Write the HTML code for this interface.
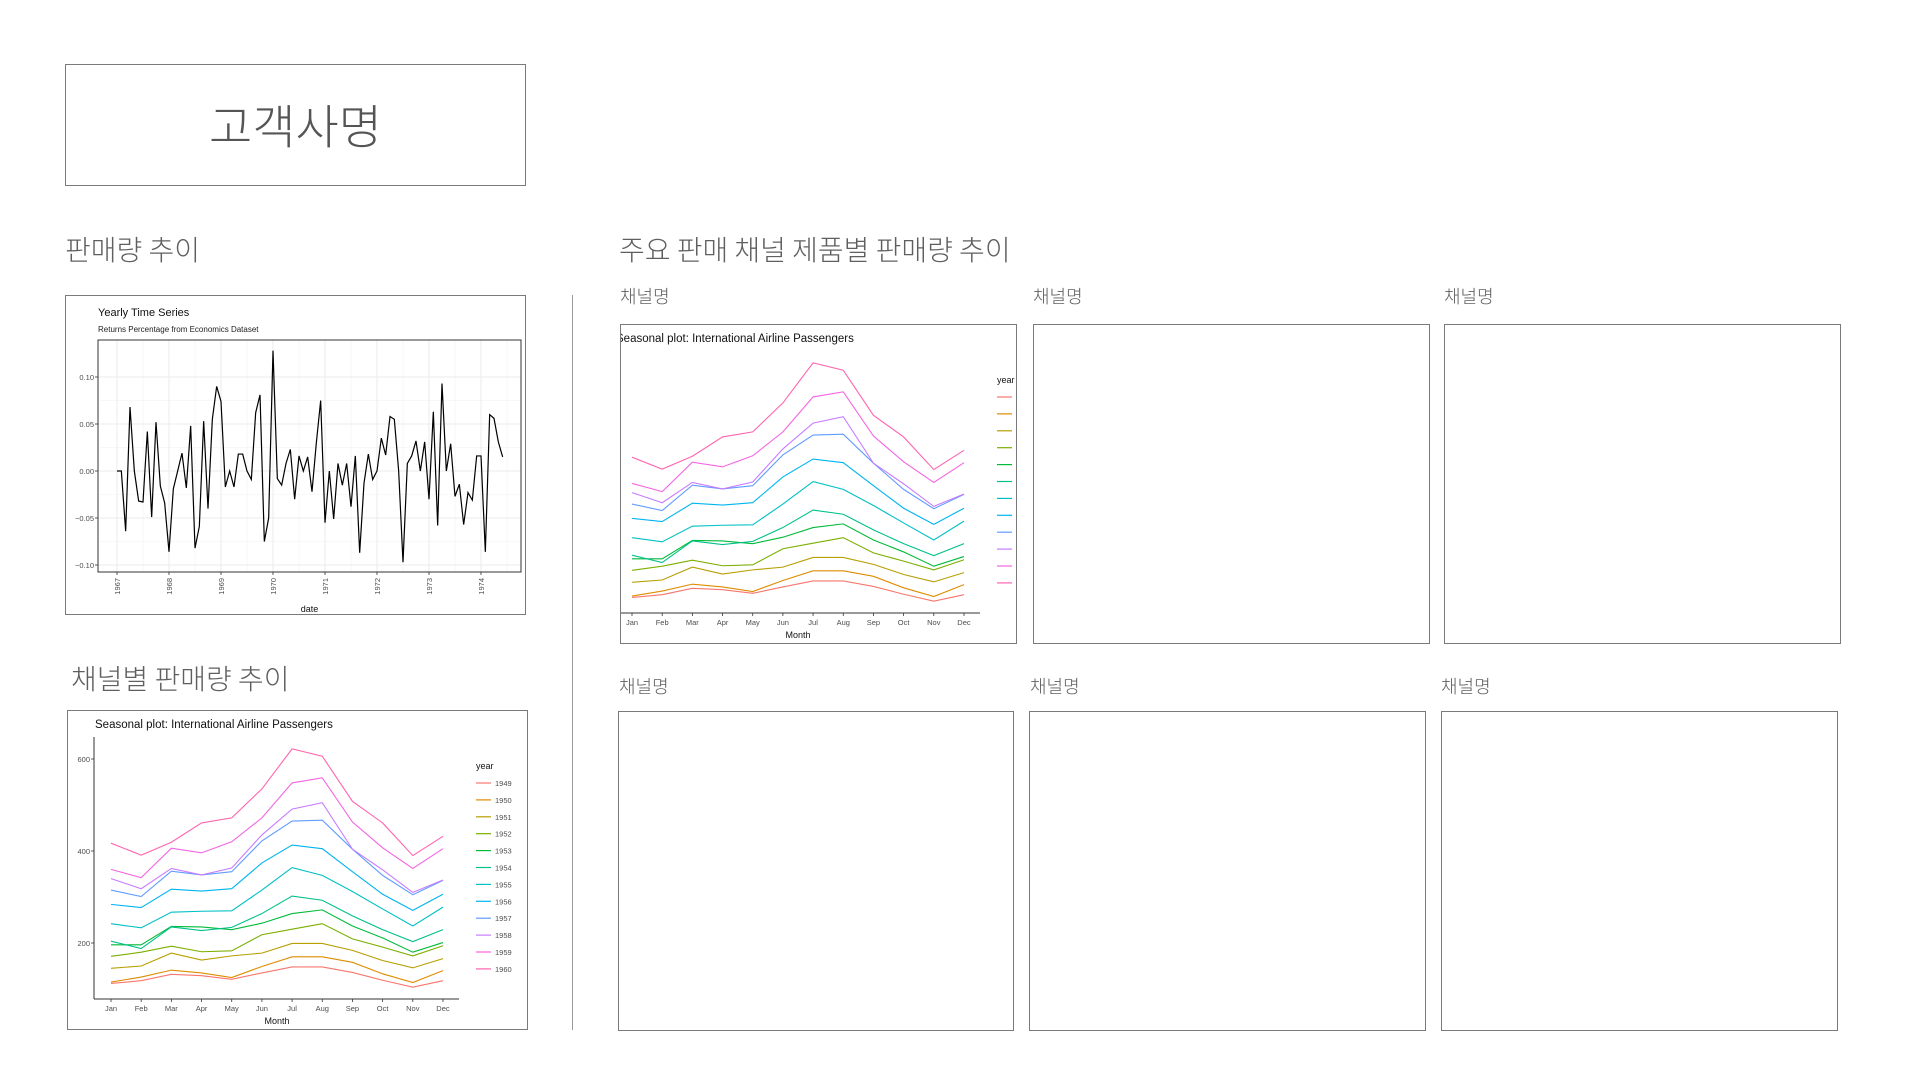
<!DOCTYPE html>
<html><head><meta charset="utf-8">
<style>
body{margin:0;width:1920px;height:1080px;background:#fff;position:relative;overflow:hidden;font-family:"Liberation Sans","Noto Sans CJK KR",sans-serif;}
.abs{position:absolute;}
.box{position:absolute;border:1.5px solid #7a7a7a;box-sizing:border-box;background:#fff;overflow:hidden;}
.h{position:absolute;color:#5f5f5f;font-family:"Noto Sans CJK KR","NanumGothic",sans-serif;font-weight:300;white-space:nowrap;line-height:1;}
svg text{font-family:"Liberation Sans",sans-serif;}
</style></head><body>
<div class="box" style="left:65px;top:64px;width:461px;height:122px;">
  <div class="h" style="left:0;right:0;top:35px;text-align:center;font-size:47px;color:#555;">고객사명</div>
</div>
<div class="h" style="left:65px;top:235px;font-size:28px;">판매량 추이</div>
<div class="h" style="left:619px;top:235px;font-size:28px;">주요 판매 채널 제품별 판매량 추이</div>
<div class="h" style="left:71px;top:664px;font-size:28px;">채널별 판매량 추이</div>
<div class="abs" style="left:572px;top:295px;width:1px;height:735px;background:#999;"></div>

<div class="h" style="left:620px;top:287px;font-size:18px;">채널명</div>
<div class="h" style="left:1033px;top:287px;font-size:18px;">채널명</div>
<div class="h" style="left:1444px;top:287px;font-size:18px;">채널명</div>
<div class="h" style="left:619px;top:677px;font-size:18px;">채널명</div>
<div class="h" style="left:1030px;top:677px;font-size:18px;">채널명</div>
<div class="h" style="left:1441px;top:677px;font-size:18px;">채널명</div>

<div class="box" style="left:65px;top:295px;width:461px;height:320px;"><svg id="ts" width="461" height="320" style="position:absolute;left:-1.5px;top:-1.5px"></svg></div>
<div class="box" style="left:67px;top:710px;width:461px;height:320px;"><svg id="sp1" width="461" height="320" style="position:absolute;left:-1.5px;top:-1.5px"></svg></div>
<div class="box" style="left:620px;top:324px;width:397px;height:320px;"><svg id="sp2" width="461" height="320" style="position:absolute;left:-33.5px;top:-1.5px"></svg></div>
<div class="box" style="left:1033px;top:324px;width:397px;height:320px;"></div>
<div class="box" style="left:1444px;top:324px;width:397px;height:320px;"></div>
<div class="box" style="left:618px;top:711px;width:396px;height:320px;"></div>
<div class="box" style="left:1029px;top:711px;width:397px;height:320px;"></div>
<div class="box" style="left:1441px;top:711px;width:397px;height:320px;"></div>

<script>
const tsValues=[0,0,-0.064,0.068,0,-0.032,-0.033,0.042,-0.049,0.052,-0.016,-0.034,-0.086,-0.019,0,0.019,-0.018,0.048,-0.082,-0.059,0.053,-0.040,0.055,0.090,0.074,-0.017,0,-0.017,0.018,0.018,0,-0.009,0.062,0.081,-0.075,-0.050,0.128,-0.008,-0.015,0.008,0.023,-0.030,0.016,0,0.015,-0.022,0.030,0.075,-0.055,0,-0.051,0.008,-0.015,0.008,-0.038,0.016,-0.087,-0.013,0.018,-0.009,0,0.035,0.017,0.058,0.055,0,-0.097,0.008,0.016,0.032,0,0.031,-0.030,0.063,-0.058,0.093,0,0.029,-0.027,-0.014,-0.057,-0.023,-0.031,0.016,0.016,-0.086,0.060,0.056,0.031,0.015];
const tsYTicks=[0.10,0.05,0.00,-0.05,-0.10];
const tsYLabels=["0.10","0.05","0.00","\u22120.05","\u22120.10"];
const tsYears=[1967,1968,1969,1970,1971,1972,1973,1974];
const months=["Jan","Feb","Mar","Apr","May","Jun","Jul","Aug","Sep","Oct","Nov","Dec"];
const years=["1949","1950","1951","1952","1953","1954","1955","1956","1957","1958","1959","1960"];
const passengers=[
[112,118,132,129,121,135,148,148,136,119,104,118],
[115,126,141,135,125,149,170,170,158,133,114,140],
[145,150,178,163,172,178,199,199,184,162,146,166],
[171,180,193,181,183,218,230,242,209,191,172,194],
[196,196,236,235,229,243,264,272,237,211,180,201],
[204,188,235,227,234,264,302,293,259,229,203,229],
[242,233,267,269,270,315,364,347,312,274,237,278],
[284,277,317,313,318,374,413,405,355,306,271,306],
[315,301,356,348,355,422,465,467,404,347,305,336],
[340,318,362,348,363,435,491,505,404,359,310,337],
[360,342,406,396,420,472,548,559,463,407,362,405],
[417,391,419,461,472,535,622,606,508,461,390,432]];
const spYTicks=[200,400,600];
const colors=["#F8766D","#DE8C00","#B79F00","#7CAE00","#00BA38","#00C08B","#00BFC4","#00B4F0","#619CFF","#C77CFF","#F564E3","#FF64B0"];

const NS="http://www.w3.org/2000/svg";
function mk(parent,tag,attrs,txt){const e=document.createElementNS(NS,tag);for(const k in attrs)e.setAttribute(k,attrs[k]);if(txt!==undefined)e.textContent=txt;parent.appendChild(e);return e;}

(function(){
const s=document.getElementById('ts');
const L=33,T=45,R=456,B=277;
const y=v=>176-v*940;
const xYear=yr=>52+(yr-1967)*52;
const xIdx=i=>52+i*52/12;
let t=mk(s,'text',{x:L,y:21,'font-size':11,fill:'#111'},'Yearly Time Series');

t=mk(s,'text',{x:L,y:37,'font-size':8,fill:'#222'},'Returns Percentage from Economics Dataset');

for(let i=0;i<tsYTicks.length-1;i++){const m=(tsYTicks[i]+tsYTicks[i+1])/2;mk(s,'line',{x1:L,x2:R,y1:y(m),y2:y(m),stroke:'#f2f2f2','stroke-width':0.6});}
tsYears.forEach(yr=>{const xm=xYear(yr)+26;if(xm<R)mk(s,'line',{x1:xm,x2:xm,y1:T,y2:B,stroke:'#f2f2f2','stroke-width':0.6});});
tsYTicks.forEach((v,i)=>{
 mk(s,'line',{x1:L,x2:R,y1:y(v),y2:y(v),stroke:'#ebebeb','stroke-width':1});
 mk(s,'line',{x1:L-3,x2:L,y1:y(v),y2:y(v),stroke:'#333','stroke-width':0.8});
 const tl=mk(s,'text',{x:L-4,y:y(v)+3,'font-size':7.5,fill:'#4d4d4d','text-anchor':'end'},tsYLabels[i]);
 
});
tsYears.forEach(yr=>{
 const x=xYear(yr);
 mk(s,'line',{x1:x,x2:x,y1:T,y2:B,stroke:'#ebebeb','stroke-width':1});
 mk(s,'line',{x1:x,x2:x,y1:B,y2:B+3,stroke:'#333','stroke-width':0.8});
 const tl=mk(s,'text',{x:x+3,y:B+6,'font-size':7.5,fill:'#4d4d4d','text-anchor':'end',transform:`rotate(-90 ${x+3} ${B+6})`},String(yr));
 
});
const p=mk(s,'polyline',{points:tsValues.map((v,i)=>xIdx(i)+','+y(v)).join(' '),fill:'none',stroke:'#000','stroke-width':1.2});

mk(s,'rect',{x:L,y:T,width:R-L,height:B-T,fill:'none',stroke:'#333','stroke-width':1});
t=mk(s,'text',{x:(L+R)/2,y:317,'font-size':9,fill:'#111','text-anchor':'middle'},'date');

})();

function seasonal(id){
const s=document.getElementById(id);
const x=i=>44+i*30.18;
const y=v=>233-(v-200)*0.46;
let t=mk(s,'text',{x:28,y:18,'font-size':11.5,fill:'#111'},'Seasonal plot: International Airline Passengers');

passengers.forEach((row,k)=>{
 const p=mk(s,'polyline',{points:row.map((v,i)=>x(i)+','+y(v)).join(' '),fill:'none',stroke:colors[k],'stroke-width':1.1});
 
});
mk(s,'line',{x1:27,x2:27,y1:27,y2:289,stroke:'#333','stroke-width':1});
mk(s,'line',{x1:27,x2:392,y1:289,y2:289,stroke:'#333','stroke-width':1});
spYTicks.forEach(v=>{
 mk(s,'line',{x1:24,x2:27,y1:y(v),y2:y(v),stroke:'#333','stroke-width':0.8});
 const tl=mk(s,'text',{x:23,y:y(v)+3,'font-size':7.5,fill:'#4d4d4d','text-anchor':'end'},String(v));
 
});
months.forEach((m,i)=>{
 mk(s,'line',{x1:x(i),x2:x(i),y1:289,y2:292,stroke:'#333','stroke-width':0.8});
 const tl=mk(s,'text',{x:x(i),y:301,'font-size':7.5,fill:'#4d4d4d','text-anchor':'middle'},m);
 
});
t=mk(s,'text',{x:210,y:314,'font-size':9,fill:'#111','text-anchor':'middle'},'Month');

t=mk(s,'text',{x:409,y:59,'font-size':9,fill:'#111'},'year');

years.forEach((yr,k)=>{
 const yy=73+k*16.9;
 const g=mk(s,'g',{});
 
 mk(g,'line',{x1:409,x2:424,y1:yy,y2:yy,stroke:colors[k],'stroke-width':1.2});
 mk(g,'text',{x:428,y:yy+3,'font-size':7.5,fill:'#4d4d4d'},yr);
});
}
seasonal('sp1');seasonal('sp2');
</script>
</body></html>
